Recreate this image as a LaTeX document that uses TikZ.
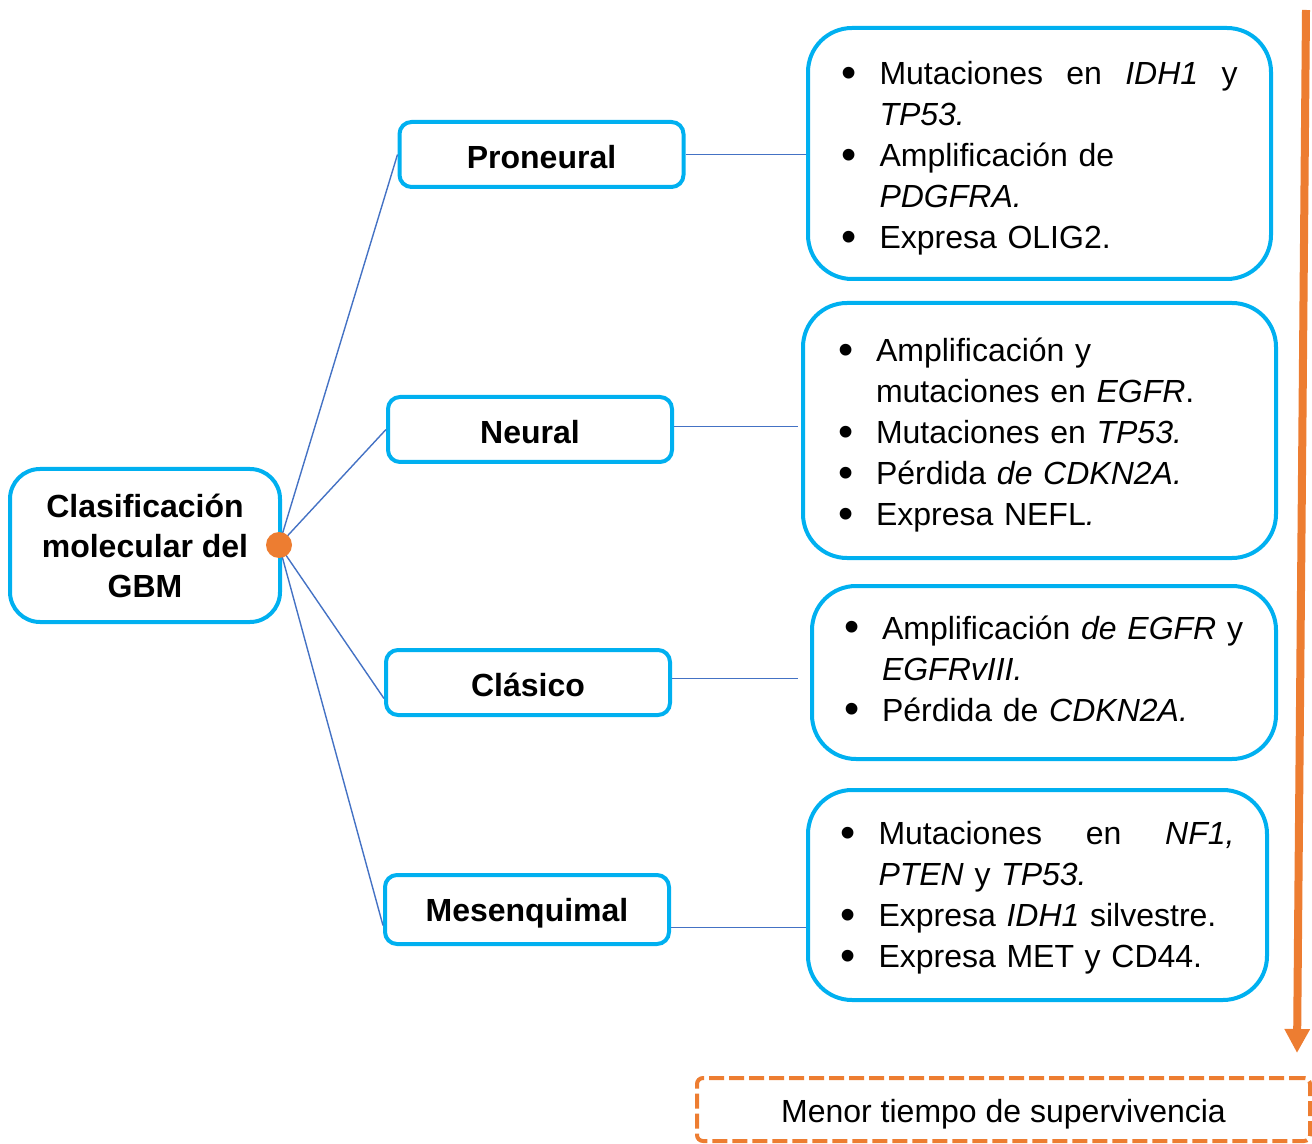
\documentclass[tikz,border=0pt]{standalone}
\usepackage{fontspec}
\setmainfont{Liberation Sans}
\usetikzlibrary{arrows.meta, positioning}
\definecolor{gbmcyan}{HTML}{00B0F0}
\definecolor{gbmblue}{HTML}{4472C4}
\definecolor{gbmorange}{HTML}{ED7D31}
\setlength{\parindent}{0pt}
\newcommand{\bul}{\makebox[19pt][l]{\raisebox{-0.07em}{\scalebox{1.35}{\textbullet}}}}
\newcommand{\ind}{\hspace*{19pt}}

\begin{document}
\begin{tikzpicture}[x=0.5pt, y=-0.5pt,
      rootbox/.style={draw=gbmcyan, line width=2pt, rounded corners=15pt,
                    minimum width=135pt, minimum height=76.5pt,
                    font=\fontsize{16}{20}\selectfont\bfseries, align=center},
      typebox/.style={draw=gbmcyan, line width=2pt, rounded corners=6pt,
                    minimum width=142pt, minimum height=32.5pt,
                    text height=13.7pt, text depth=0pt,
                    font=\fontsize{16}{20}\selectfont\bfseries},
      infobox/.style={draw=gbmcyan, line width=2pt, rounded corners=22pt,
                    font=\fontsize{16}{20.5}\selectfont, align=left},
      link/.style={gbmblue, line width=0.7pt},
      arr/.style={-{Triangle[length=12pt, width=12pt]}, line width=4pt, gbmorange}
    ]
      \useasboundingbox (0,0) rectangle (1312,1144);

      \node[rootbox] (gbm) at (145,545.5) {Clasificación\\molecular del\\GBM};

      \node[typebox] (pro) at (541.5,154.5) {Proneural};
      \node[typebox] (neu) at (530,429.5) {Neural};
      \node[typebox] (cla) at (528,682.5) {Clásico};
      \node[typebox, minimum height=34.5pt, text depth=2pt] (mes) at (527,909.5) {Mesenquimal};

      \node[infobox, minimum width=231.5pt, minimum height=125.5pt, text width=198pt]
        (b1) at (1039.5,153.5)
        {\rule{0pt}{16.7pt}\bul Mutaciones\hfill en\hfill \textit{IDH1}\hfill y\\
         \ind\textit{TP53.}\\
         \bul Amplificación de\\
         \ind\textit{PDGFRA.}\\
         \bul Expresa OLIG2.};
      \node[infobox, minimum width=236.5pt, minimum height=127.5pt, text width=201.5pt]
        (b2) at (1039.5,430.5)
        {\rule{0pt}{16.7pt}\bul Amplificación y\\
         \ind mutaciones en \textit{EGFR}.\\
         \bul Mutaciones en \textit{TP53.}\\
         \bul Pérdida \textit{de CDKN2A.}\\
         \bul Expresa NEFL\textit{.}};
      \node[infobox, minimum width=232pt, minimum height=86.5pt, text width=200pt]
        (b3) at (1044,672.5)
        {\bul Amplificación \textit{de EGFR} y\\
         \ind\textit{EGFRvIII.}\\
         \bul Pérdida de \textit{CDKN2A.}\rule[-4pt]{0pt}{4pt}};
      \node[infobox, minimum width=229.5pt, minimum height=105pt, text width=197pt]
        (b4) at (1037.5,895)
        {\rule{0pt}{14.7pt}\bul Mutaciones\hfill en\hfill \textit{NF1,}\\
         \ind\textit{PTEN} y \textit{TP53.}\\
         \bul Expresa \textit{IDH1} silvestre.\\
         \bul Expresa MET y CD44.};

      \node[draw=gbmorange, line width=2pt, dash pattern=on 7.5pt off 2.5pt,
            rounded corners=3pt, minimum width=306.5pt, minimum height=31.5pt,
            text height=13.3pt, text depth=0pt,
            font=\fontsize{16}{20}\selectfont] (menor) at (1003.5,1109.5)
            {Menor tiempo de supervivencia};

      \coordinate (hubpt) at (279,545);
      \draw[link] (hubpt) -- (pro.west);
      \draw[link] (hubpt) -- (neu.west);
      \draw[link] (hubpt) -- ([yshift=-8pt]cla.west);
      \draw[link] (hubpt) -- ([yshift=-8pt]mes.west);
      \node[circle, fill=gbmorange, minimum size=13pt, inner sep=0pt] (hub) at (hubpt) {};

      \draw[link] (pro.east) -- (pro.east -| b1.west);
      \draw[link] ([yshift=1.5pt]neu.east) -- ([yshift=1.5pt,xshift=-1.5pt]neu.east -| b2.west);
      \draw[link] ([yshift=2pt]cla.east) -- ([yshift=2pt,xshift=-6pt]cla.east -| b3.west);
      \draw[link] ([yshift=-9pt]mes.east) -- ([yshift=-9pt]mes.east -| b4.west);

      \coordinate (ttop) at (1306,10);
      \coordinate (tbot) at (1297,1053);
      \draw[arr] (ttop) -- (tbot);
    \end{tikzpicture}
\end{document}
